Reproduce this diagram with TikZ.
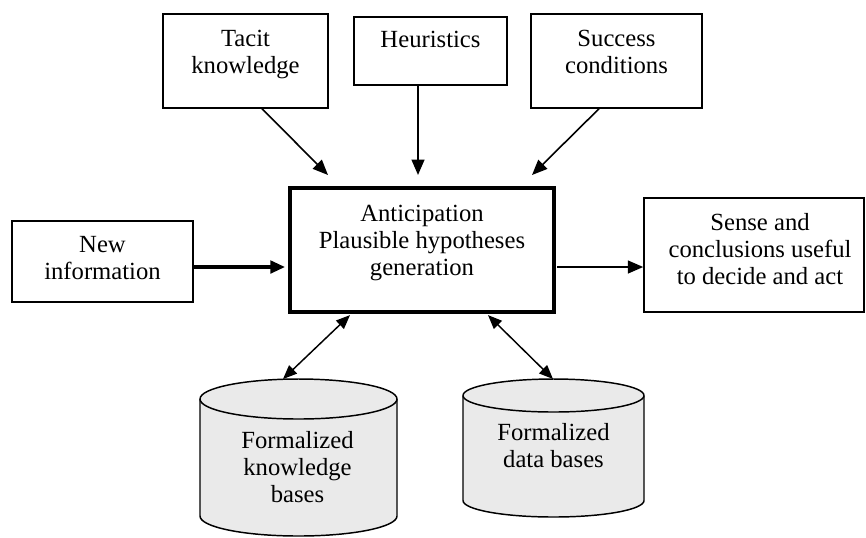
\documentclass[tikz,border=0pt]{standalone}
\usepackage{fontspec}
\setmainfont{Liberation Serif}
\usetikzlibrary{arrows.meta,fit,calc}
\definecolor{cylgray}{HTML}{EAEAEA}
\begin{document}
\begin{tikzpicture}[x=0.75pt,y=-0.75pt,
  box/.style={draw, line width=1.1pt, inner sep=0pt},
  mainbox/.style={draw, line width=2.4pt, inner sep=0pt},
  txt/.style={align=center, font=\fontsize{18.5}{20.25}\selectfont, inner sep=0pt},
  arr/.style={-{Triangle[length=11.5pt,width=9.5pt]}, line width=1.2pt},
  midarr/.style={-{Triangle[length=11.5pt,width=9.5pt]}, line width=1.6pt},
  thickarr/.style={-{Triangle[length=11pt,width=9.5pt]}, line width=2.3pt},
  dbl/.style={{Triangle[length=10.5pt,width=8.5pt]}-{Triangle[length=10.5pt,width=8.5pt]}, line width=1.1pt},
  cyl/.style={draw, line width=1.1pt, fill=cylgray},
]
\useasboundingbox (0,0) rectangle (866,537);

% boxes
\node[box, fit={(163,14) (328,108)}] (tacit) {};
\node[box, fit={(354,17) (507,85)}] (heur) {};
\node[box, fit={(531,14) (702,108)}] (succ) {};
\node[box, fit={(12,221) (193,302)}] (newinfo) {};
\node[mainbox, fit={(290,188) (554,312)}] (main) {};
\node[box, fit={(644,198) (864,312)}] (sense) {};

% cylinders
\node[fit={(200,379) (397,536)}, inner sep=0pt] (kb) {};
\node[fit={(463,379) (644,517)}, inner sep=0pt] (db) {};
\filldraw[cyl] (200,399) -- (200,516)
  arc[start angle=180, end angle=360, x radius=73.875pt, y radius=15pt]
  -- (397,399)
  arc[start angle=0, end angle=180, x radius=73.875pt, y radius=15pt] -- cycle;
\draw[line width=1.1pt] (200,399)
  arc[start angle=180, end angle=360, x radius=73.875pt, y radius=15pt];
\filldraw[cyl] (463,395.5) -- (463,500.5)
  arc[start angle=180, end angle=360, x radius=67.875pt, y radius=12.375pt]
  -- (644,395.5)
  arc[start angle=0, end angle=180, x radius=67.875pt, y radius=12.375pt] -- cycle;
\draw[line width=1.1pt] (463,395.5)
  arc[start angle=180, end angle=360, x radius=67.875pt, y radius=12.375pt];

% texts
\node[txt] (tacitT) at (245.5,54.5) {Tacit\\knowledge};
\node[txt] (heurT) at (430.5,39) {Heuristics};
\node[txt] (succT) at (616.5,51.5) {Success\\conditions};
\node[txt] (newT) at (102.5,258.5) {New\\information};
\node[txt] (mainT) at (422,243) {Anticipation\\Plausible hypotheses\\generation};
\node[txt] (senseT) at (760,249.5) {Sense and\\conclusions useful\\to decide and act};
\node[txt] (kbT) at (297.5,467) {Formalized\\knowledge\\bases};
\node[txt] (dbT) at (553.5,446) {Formalized\\data bases};

% connector ends
\coordinate (tacitEnd) at (328,175);
\coordinate (heurEnd) at (418,175);
\coordinate (succEnd) at (532,175);
\coordinate (newEnd) at (285,267);
\coordinate (kbTop) at (283,379);
\coordinate (dbTop) at (553,379);

% connectors
\draw[arr] ($(tacit.south)+(16.5,0)$) -- (tacitEnd);
\draw[midarr] ($(heur.south)+(-12.5,0)$) -- (heurEnd);
\draw[arr] ($(succ.south)+(-17.5,0)$) -- (succEnd);
\draw[thickarr] ($(newinfo.east)+(0,5.5)$) -- (newEnd);
\draw[midarr] ($(main.east)+(1.5,17)$) -- ($(sense.west)+(0,12)$);
\draw[dbl] ($(main.south)+(-72,1.5)$) -- (kbTop);
\draw[dbl] ($(main.south)+(66,1.5)$) -- (dbTop);
\end{tikzpicture}
\end{document}
